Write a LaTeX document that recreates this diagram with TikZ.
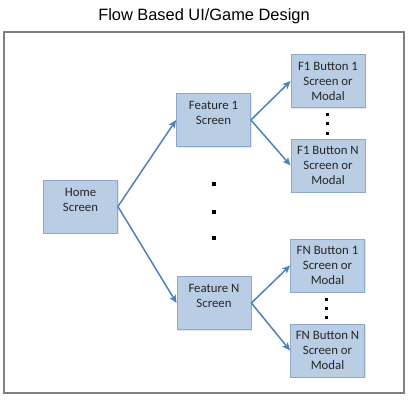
\documentclass[tikz,border=0pt]{standalone}
\usepackage{fontspec}
\setmainfont{Carlito}
\newfontfamily\titlefont{Liberation Sans}
\usetikzlibrary{arrows.meta}
\usetikzlibrary{shadows}

\definecolor{boxfill}{RGB}{185,205,229}
\definecolor{boxline}{RGB}{141,168,200}
\definecolor{flowblue}{RGB}{79,129,189}
\definecolor{framegray}{RGB}{128,128,128}

\tikzset{
  screen/.style={draw=boxline, fill=boxfill, line width=0.8pt,
    minimum width=74pt, minimum height=53pt, inner sep=1pt,
    align=center, text=black!85,
    font=\fontsize{12.8}{15}\selectfont,
    drop shadow={opacity=0.2, shadow xshift=1.2pt, shadow yshift=-1.2pt}},
  twoline/.style={text depth=14pt},
  flow/.style={draw=flowblue, line width=1.5pt,
    -{Stealth[length=8pt,width=7pt,inset=2pt]}},
  bigdot/.style={fill=black},
}

\begin{document}
\begin{tikzpicture}[x=1pt,y=1pt,yscale=-1,xscale=1]
\useasboundingbox (0,0) rectangle (408,400);

% Title
\node (title) at (204,16) {\titlefont\fontsize{16.4}{19}\selectfont Flow Based UI/Game Design};

%Shape: Frame
\draw [color=framegray, line width=1.4pt] (4,32) rectangle (404,393);

% Screens
\node [screen,twoline] (home)  at (80.5,206.5) {Home\\Screen};
\node [screen,twoline] (feat1) at (213.5,120)  {Feature 1\\Screen};
\node [screen,twoline] (featN) at (214,303)    {Feature N\\Screen};
\node [screen] (b11)   at (328,81)     {F1 Button 1\\Screen or\\Modal};
\node [screen] (b1N)   at (328,165.5)  {F1 Button N\\Screen or\\Modal};
\node [screen] (bN1)   at (327.5,265.5){FN Button 1\\Screen or\\Modal};
\node [screen] (bNN)   at (327.5,350.5){FN Button N\\Screen or\\Modal};

% Connectors
\draw [flow] (home.east) -- (feat1.west);
\draw [flow] (home.east) -- (featN.west);
\draw [flow] (feat1.east) -- (b11.west);
\draw [flow] (feat1.east) -- (b1N.west);
\draw [flow] (featN.east) -- (bN1.west);
\draw [flow] (featN.east) -- (bNN.west);

%Shape: Dots
\foreach \y in {184,212,238}
  \fill [bigdot] (212,\y-2) rectangle (216,\y+2);
\foreach \y in {114,123.5,133}
  \fill [bigdot] (325.5,\y-1.5) rectangle (328.5,\y+1.5);
\foreach \y in {299,308,317}
  \fill [bigdot] (324.5,\y-1.5) rectangle (327.5,\y+1.5);
\end{tikzpicture}
\end{document}
